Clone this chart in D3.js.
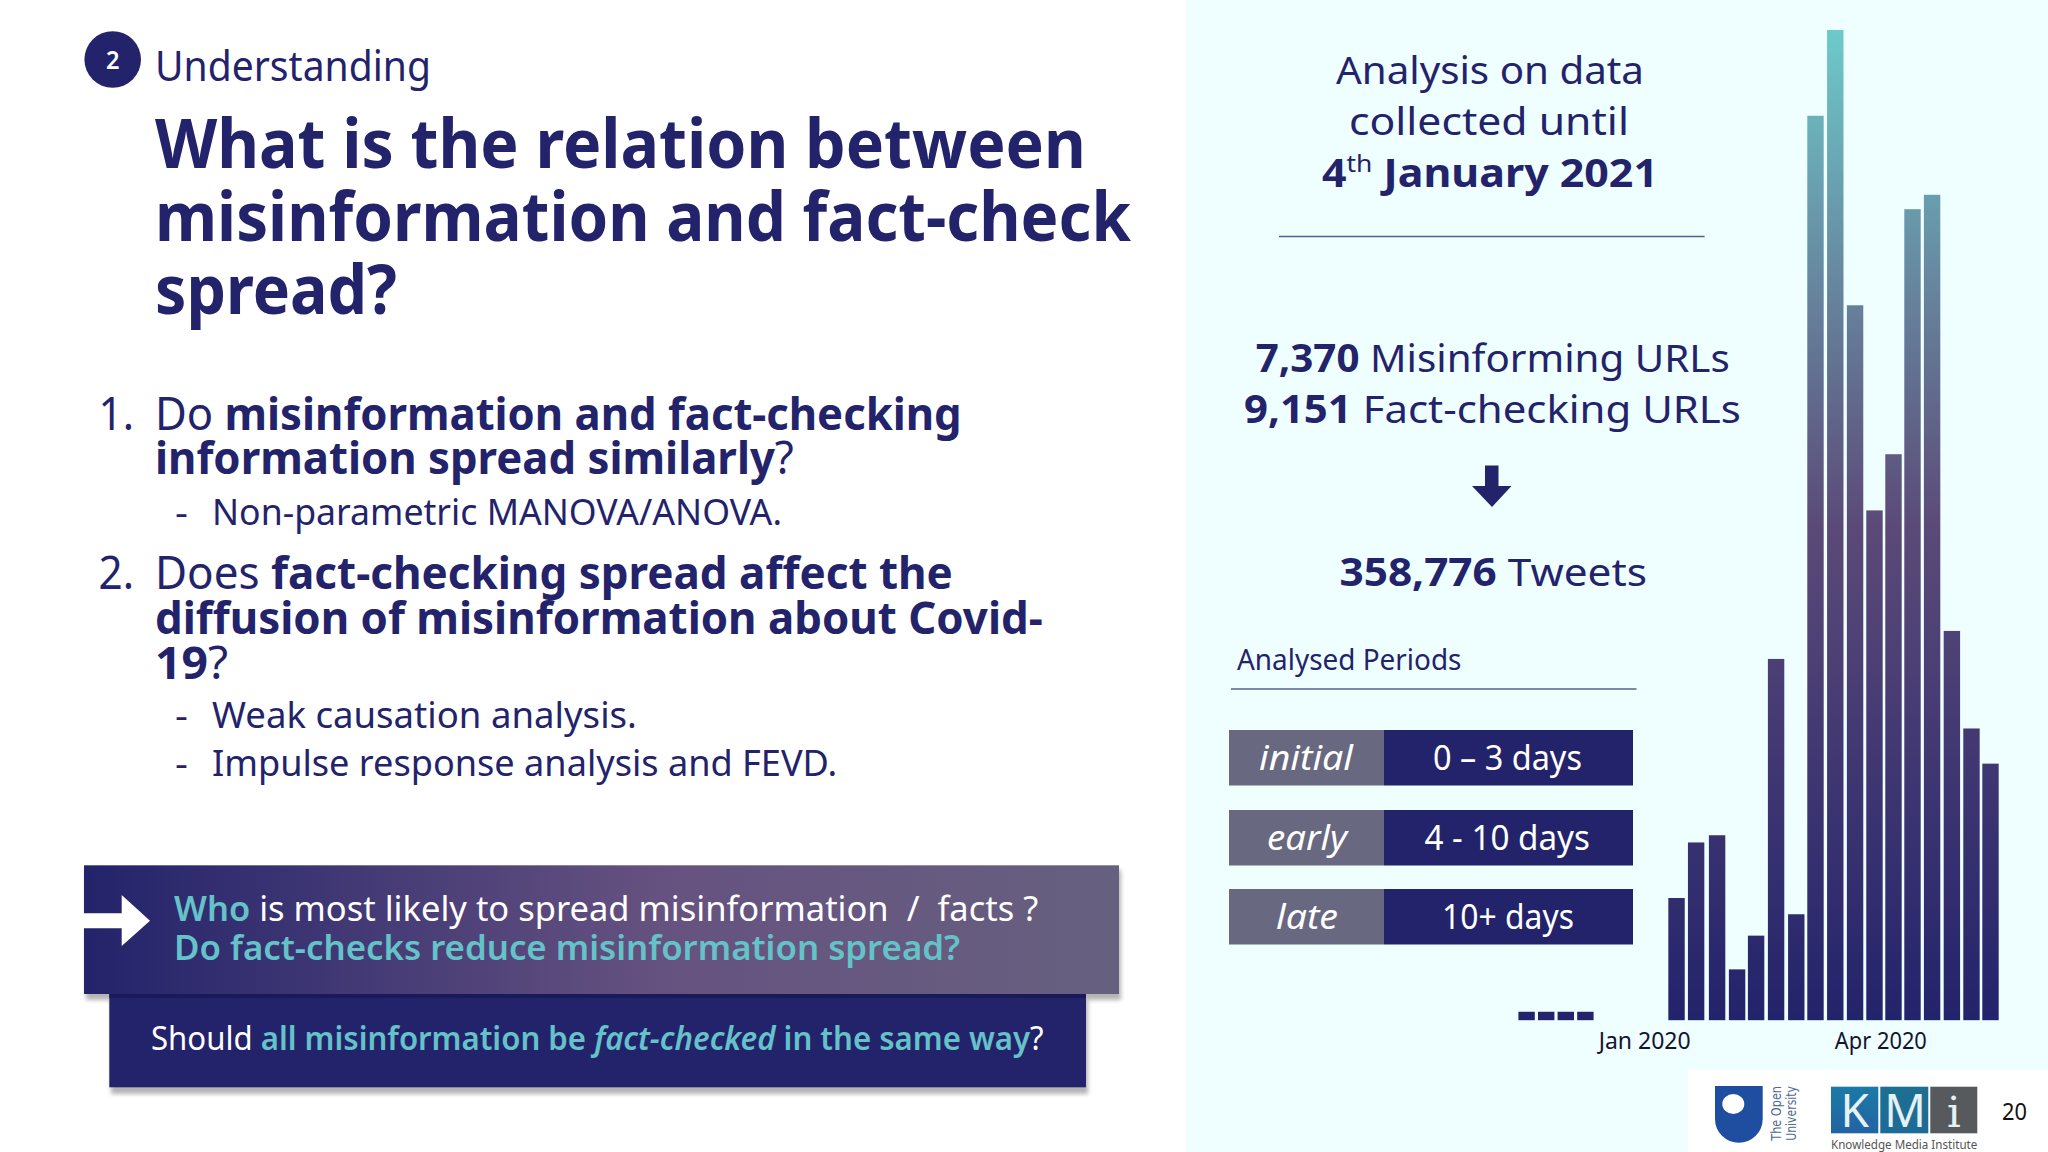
<!DOCTYPE html>
<html><head><meta charset="utf-8">
<script src="https://cdn.jsdelivr.net/npm/d3@7"></script>
<style>html,body{margin:0;padding:0;background:#fff;overflow:hidden}svg{display:block}text{font-family:"Noto Sans","Open Sans",sans-serif;font-variant-ligatures:none}</style>
</head><body><svg id="c" width="2048" height="1152"></svg>
<script>
// Weekly tweet volumes, thousands of tweets
const weekIndex = [0,1,2,3,7.65,8.65,9.72,10.74,11.71,12.73,13.76,14.74,15.75,16.76,17.75,18.72,19.69,20.69,21.70,22.70,23.67];
const tweetsK = [0.41,0.41,0.41,0.41,5.94,8.64,8.99,2.47,4.11,17.56,5.15,43.96,48.13,34.75,24.78,27.51,39.42,40.12,18.92,14.18,12.47];
const tickWeeks = [6,18.05];
const tickLabels = ["Jan 2020","Apr 2020"];
const periodNames = ["initial","early","late"];
const periodRanges = ["0 – 3 days","4 - 10 days","10+ days"];

const navy="#23236b", teal="#64c2c8", grey="#686880";
const svg=d3.select("#c");
const defs=svg.append("defs");
function grad(id,stops,attrs){const g=defs.append("linearGradient").attr("id",id);
  Object.entries(attrs).forEach(([k,v])=>g.attr(k,v));
  stops.forEach(([o,c])=>g.append("stop").attr("offset",o).attr("stop-color",c));}
grad("barG",[[0,navy],[0.5,"#5b4a78"],[0.72,"#66809b"],[1,"#6dcaca"]],{gradientUnits:"userSpaceOnUse",x1:0,x2:0,y1:1020,y2:30});
grad("boxG",[[0,navy],[0.56,"#665280"],[1,"#66607f"]],{x1:0,x2:1,y1:0,y2:0});
grad("kG",[[0,"#1b7aa6"],[1,"#2263a3"]],{x1:0,x2:0,y1:0,y2:1});
grad("mG",[[0,"#1c7090"],[1,"#1e6a98"]],{x1:0,x2:0,y1:0,y2:1});
defs.append("filter").attr("id","blur").attr("x","-5%").attr("y","-20%").attr("width","110%").attr("height","140%")
  .append("feGaussianBlur").attr("stdDeviation",2);

// backgrounds
svg.append("rect").attr("width",2048).attr("height",1152).attr("fill","#fff");
svg.append("rect").attr("x",1186).attr("width",862).attr("height",1152).attr("fill","#effefe");
svg.append("rect").attr("x",1688).attr("y",1070).attr("width",360).attr("height",82).attr("fill","#fff");

// helper: one line of text, fitted to the measured span of the reference
function line(runs,x0,x1,y,size,color,weight){
  const t=svg.append("text").attr("font-size",size).attr("fill",color).attr("font-weight",weight||400);
  let pending=0;
  runs.forEach(r=>{
    const s=t.append("tspan").text(r.t).attr("xml:space","preserve").style("white-space","pre");
    if(r.c)s.attr("fill",r.c); if(r.w)s.attr("font-weight",r.w); if(r.i)s.attr("font-style","italic");
    if(r.s)s.attr("font-size",r.s);
    const dy=(r.dy||0)+pending; if(dy)s.attr("dy",dy); pending=-(r.dy||0);
  });
  const len=t.node().getComputedTextLength();
  const sx=(x1-x0)/len;
  t.attr("transform",`translate(${x0},${y}) scale(${sx},1)`);
  return t;
}

// header
svg.append("circle").attr("cx",112.7).attr("cy",59.5).attr("r",28.3).attr("fill",navy);
line([{t:"2"}],106,119.5,69,25,"#fff",600);
line([{t:"Understanding"}],155,431,81,41,navy);
const titleLines=[["What is the relation between",155,1086,167.7],["misinformation and fact-check",155,1131,241],["spread?",155,397,314]];
titleLines.forEach(([s,a,b,y])=>line([{t:s}],a,b,y,68.6,navy,700));

// numbered list
line([{t:"1."}],98.5,134,429.5,45,navy);
line([{t:"Do "},{t:"misinformation and fact-checking",w:700}],155,962,429.5,45,navy);
line([{t:"information spread similarly",w:700},{t:"?"}],155,794,474,45,navy);
line([{t:"-"}],175,188,525,37,navy);
line([{t:"Non-parametric MANOVA/ANOVA."}],212,782,525,36.4,navy);
line([{t:"2."}],98.5,134,589,45,navy);
line([{t:"Does "},{t:"fact-checking spread affect the",w:700}],155,953,589,45,navy);
line([{t:"diffusion of misinformation about Covid-",w:700}],155,1043,634,45,navy);
line([{t:"19",w:700},{t:"?"}],155,228,679,45,navy);
line([{t:"-"}],175,188,728.3,37,navy);
line([{t:"Weak causation analysis."}],212,637,728.3,36.4,navy);
line([{t:"-"}],175,188,776,37,navy);
line([{t:"Impulse response analysis and FEVD."}],212,837,776,36.4,navy);

// callout boxes
svg.append("rect").attr("x",86).attr("y",870).attr("width",1035).attr("height",130).attr("fill","#777").attr("opacity",.55).attr("filter","url(#blur)");
svg.append("rect").attr("x",111).attr("y",1000).attr("width",977).attr("height",94).attr("fill","#777").attr("opacity",.55).attr("filter","url(#blur)");
svg.append("rect").attr("x",109.3).attr("y",990).attr("width",976.7).attr("height",97.3).attr("fill",navy);
svg.append("rect").attr("x",109.3).attr("y",994).attr("width",976.7).attr("height",4).attr("fill","#1b1a58");
svg.append("rect").attr("x",84).attr("y",865.3).attr("width",1035).attr("height",128.7).attr("fill","url(#boxG)");
svg.append("path").attr("d","M82,913.3H121.7V895L150,920.7L121.7,946V928.3H82Z").attr("fill","#fff");
line([{t:"Who",c:teal,w:600},{t:" is most likely to spread misinformation  /  facts ?"}],174,1038.5,920.7,34.5,"#fff");
line([{t:"Do fact-checks reduce misinformation spread?"}],174,960.5,960,34.5,teal,600);
line([{t:"Should ",c:"#fff",w:400},{t:"all misinformation be "},{t:"fact-checked",i:true},{t:" in the same way"},{t:"?",c:"#fff",w:400}],151,1043.5,1050,32.7,teal,600);

// right-hand summary
line([{t:"Analysis on data"}],1336,1644,84,39,navy);
line([{t:"collected until"}],1349,1629,135,39,navy);
line([{t:"4",w:700},{t:"th",s:24,dy:-15},{t:" January 2021",w:700}],1322,1658,186.6,39,navy);
svg.append("line").attr("x1",1279).attr("x2",1704.6).attr("y1",236.5).attr("y2",236.5).attr("stroke","#54608f").attr("stroke-width",1.3);
line([{t:"7,370",w:700},{t:" Misinforming URLs"}],1255.7,1730,371.7,39,navy);
line([{t:"9,151",w:700},{t:" Fact-checking URLs"}],1244,1741,423,39,navy);
svg.append("path").attr("d","M1485,465.4H1498.5V486H1511.5L1492,507L1472,486H1485Z").attr("fill",navy);
line([{t:"358,776",w:700},{t:" Tweets"}],1339.5,1647,586,39,navy);
line([{t:"Analysed Periods"}],1237,1461.5,670,29,navy);
svg.append("line").attr("x1",1231).attr("x2",1636.5).attr("y1",689).attr("y2",689).attr("stroke","#54608f").attr("stroke-width",1.3);

// period table
const rowY=d3.scaleOrdinal().domain(periodNames).range([730,810,889]);
const nameSpan=[[1259,1353,770],[1267,1347,850],[1276,1338,929]];
const rangeSpan=[[1433,1582,770],[1424.5,1590,850],[1442,1574,929]];
periodNames.forEach((n,i)=>{
  svg.append("rect").attr("x",1229).attr("y",rowY(n)).attr("width",155).attr("height",55.5).attr("fill",grey);
  svg.append("rect").attr("x",1384).attr("y",rowY(n)).attr("width",249).attr("height",55.5).attr("fill",navy);
  line([{t:n,i:true}],nameSpan[i][0],nameSpan[i][1],nameSpan[i][2],34,"#fff");
  line([{t:periodRanges[i]}],rangeSpan[i][0],rangeSpan[i][1],rangeSpan[i][2],34,"#fff");
});

// bar chart
const x=d3.scaleLinear().domain([0,23.67]).range([1526.6,1990.5]);
const y=d3.scaleLinear().domain([0,48.13]).range([1020.2,30]);
svg.append("g").selectAll("rect").data(weekIndex).join("rect")
  .attr("x",d=>x(d)-8.2).attr("width",16.4)
  .attr("y",(d,i)=>y(tweetsK[i])).attr("height",(d,i)=>y(0)-y(tweetsK[i]))
  .attr("fill","url(#barG)");
const ax=svg.append("g").attr("transform","translate(0,1020.2)")
  .call(d3.axisBottom(x).tickValues(tickWeeks).tickSize(0).tickFormat((d,i)=>tickLabels[i]));
ax.select(".domain").remove();
ax.selectAll("text").attr("y",28.6).attr("dy",0).attr("font-size",23).attr("fill","#14142e")
  .style("font-family","Noto Sans").attr("textLength",92).attr("lengthAdjust","spacingAndGlyphs");

// footer logos
svg.append("path").attr("d","M1715,1086H1762.7V1119A23.85,23.85 0 0 1 1715,1119Z").attr("fill","#1f4ea1");
svg.append("ellipse").attr("cx",1733.3).attr("cy",1104).attr("rx",11).attr("ry",10).attr("fill","#fff");
[["The Open",1781],["University",1796]].forEach(([s,px])=>{
  svg.append("text").attr("transform",`translate(${px},1140.7) rotate(-90)`).attr("font-size",13.5).attr("textLength",54.7)
    .attr("lengthAdjust","spacingAndGlyphs").attr("fill","#4f6a90").style("font-family","DejaVu Sans").text(s);
});
svg.append("rect").attr("x",1831).attr("y",1086.7).attr("width",47.3).attr("height",46.6).attr("fill","url(#kG)");
svg.append("rect").attr("x",1880.3).attr("y",1086.7).attr("width",48).attr("height",46.6).attr("fill","url(#mG)");
svg.append("rect").attr("x",1930.3).attr("y",1086.7).attr("width",47).attr("height",46.6).attr("fill","#565a5c");
[["K",1854.7,"Noto Sans"],["M",1905,"Noto Sans"],["i",1954,"DejaVu Serif"]].forEach(([s,px,f])=>{
  svg.append("text").attr("x",px).attr("y",1126.7).attr("text-anchor","middle").attr("font-size",s==="i"?43:46)
    .attr("fill","#e6f1f5").style("font-family",f).text(s);
});
line([{t:"Knowledge Media Institute"}],1831,1977.5,1148.5,13.5,"#555");
line([{t:"20"}],2002,2027,1120,23.4,"#111");
</script></body></html>
